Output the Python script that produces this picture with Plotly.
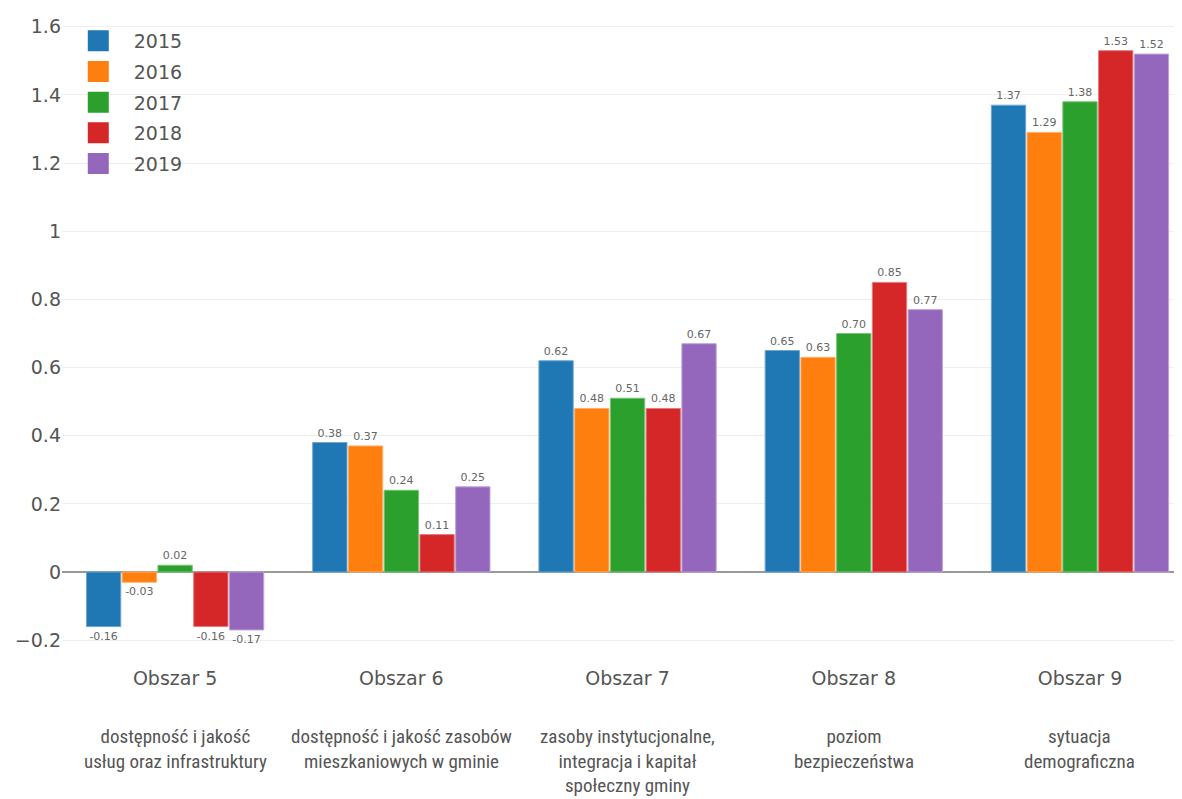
import plotly.graph_objects as go

categories = ["Obszar 5", "Obszar 6", "Obszar 7", "Obszar 8", "Obszar 9"]
descriptions = [
    "dostępność i jakość<br>usług oraz infrastruktury",
    "dostępność i jakość zasobów<br>mieszkaniowych w gminie",
    "zasoby instytucjonalne,<br>integracja i kapitał<br>społeczny gminy",
    "poziom<br>bezpieczeństwa",
    "sytuacja<br>demograficzna",
]
years = ["2015", "2016", "2017", "2018", "2019"]
v2015 = [-0.16, 0.38, 0.62, 0.65, 1.37]
v2016 = [-0.03, 0.37, 0.48, 0.63, 1.29]
v2017 = [0.02, 0.24, 0.51, 0.70, 1.38]
v2018 = [-0.16, 0.11, 0.48, 0.85, 1.53]
v2019 = [-0.17, 0.25, 0.67, 0.77, 1.52]
series = [v2015, v2016, v2017, v2018, v2019]
colors = ["#1f77b4", "#ff7f0e", "#2ca02c", "#d62728", "#9467bd"]
edge_colors = ["#6fa6d0", "#ffae6a", "#78c478", "#e57a7b", "#bda3d6"]

FONT = "DejaVu Sans"

fig = go.Figure()
for name, vals, c, ec in zip(years, series, colors, edge_colors):
    fig.add_trace(go.Bar(
        x=categories, y=vals, name=name, showlegend=False,
        marker=dict(color=c, line=dict(color=ec, width=1)),
        texttemplate="%{y:.2f}", textposition="outside",
        textfont=dict(family=FONT, size=11, color="#666666"),
        cliponaxis=False,
    ))
for name, c in zip(years, colors):
    fig.add_trace(go.Scatter(
        x=[None], y=[None], mode="markers", name=name, legendgroup=name,
        marker=dict(symbol="square", size=16, color=c, line=dict(color=c, width=5)),
    ))

for cat, desc in zip(categories, descriptions):
    fig.add_annotation(
        x=cat, xref="x", y=-0.121, yref="paper", yanchor="top",
        text=desc, showarrow=False, align="center",
        font=dict(family="Liberation Sans Narrow, Roboto Condensed, Roboto, sans-serif", size=19, color="#555555"),
    )

fig.update_layout(
    width=1174, height=791,
    margin=dict(l=54, r=7, t=9, b=152),
    paper_bgcolor="white", plot_bgcolor="white",
    barmode="group", bargap=0.21, bargroupgap=0.04,
    font=dict(family=FONT, color="#555555"),
    legend=dict(
        x=0.0007, y=0.997, xanchor="left", yanchor="top",
        font=dict(family=FONT, size=19, color="#555555"),
        itemwidth=61, tracegroupgap=3, bgcolor="rgba(255,255,255,0)",
    ),
    xaxis=dict(
        range=[-0.5, 4.42], showgrid=False, zeroline=False, showline=False,
        tickfont=dict(family=FONT, size=19, color="#555555"),
        ticks="outside", ticklen=14, tickcolor="rgba(0,0,0,0)",
    ),
    yaxis=dict(
        range=[-0.22, 1.62], dtick=0.2, tick0=0,
        showgrid=True, gridcolor="#eeeeee", gridwidth=1,
        zeroline=True, zerolinecolor="#999999", zerolinewidth=2,
        tickfont=dict(family=FONT, size=19, color="#555555"),
        tickformat="~g",
    ),
)

fig.write_html("out.html")
